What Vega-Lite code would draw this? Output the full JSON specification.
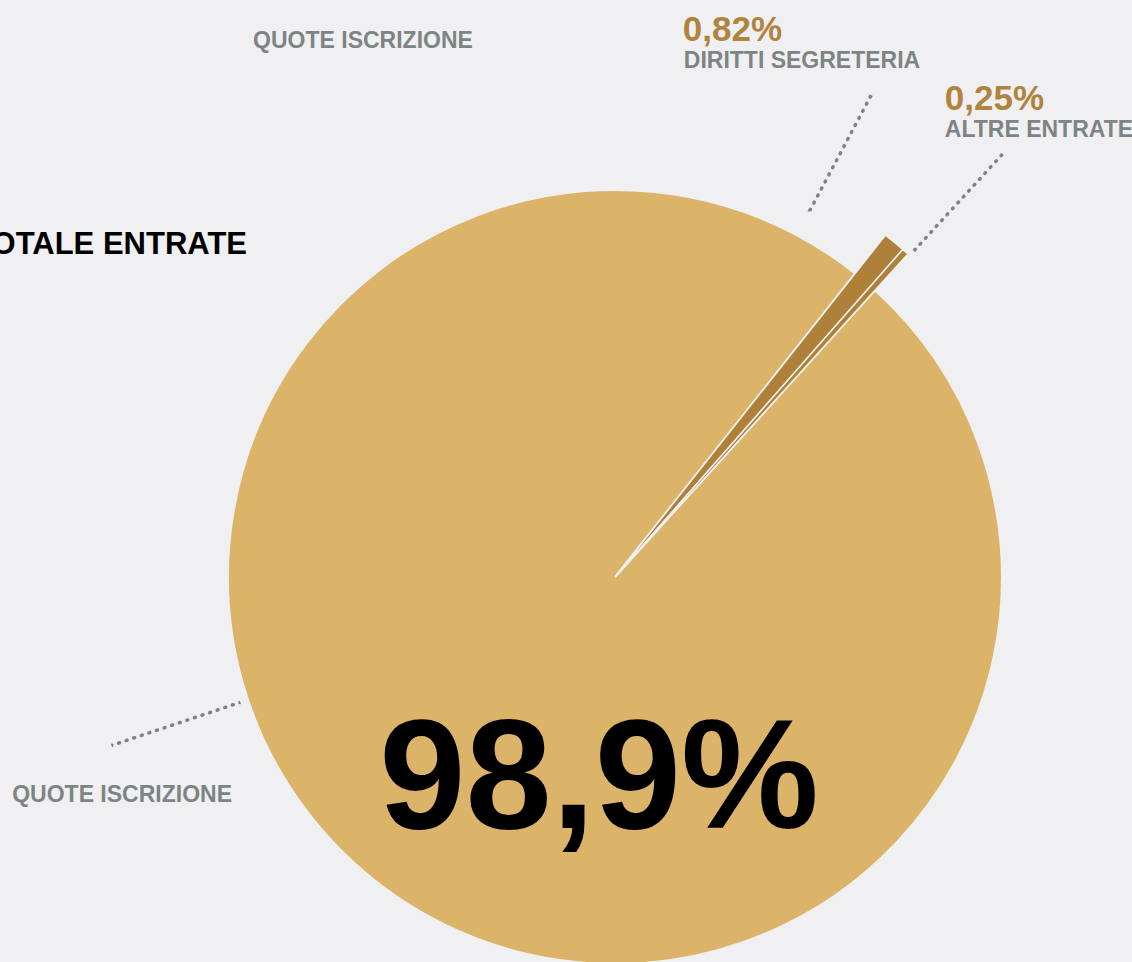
{
  "$schema": "https://vega.github.io/schema/vega-lite/v6.json",
  "autosize": {"type": "none"},
  "width": 1034,
  "height": 770,
  "padding": {"left": 98, "top": 192, "right": 0, "bottom": 0},
  "background": "#f0f0f2",
  "title": {
    "text": "TOTALE ENTRATE",
    "orient": "top",
    "anchor": "start",
    "frame": "group",
    "align": "right",
    "baseline": "alphabetic",
    "offset": 0,
    "dx": 149,
    "dy": 272,
    "font": "Liberation Sans",
    "fontSize": 31,
    "fontWeight": "bold",
    "color": "#000000"
  },
  "data": {
    "values": [
      {"voce": "QUOTE ISCRIZIONE", "quota": 98.9, "etichetta": "98,9%"},
      {"voce": "DIRITTI SEGRETERIA", "quota": 0.82, "etichetta": "0,82%"},
      {"voce": "ALTRE ENTRATE", "quota": 0.25, "etichetta": "0,25%"}
    ]
  },
  "transform": [
    {"stack": "quota", "groupby": [], "sort": [{"field": "quota", "order": "descending"}], "as": ["inizio", "fine"]}
  ],
  "encoding": {
    "theta": {"field": "inizio", "type": "quantitative", "stack": null, "scale": {"domain": [0, 99.97], "range": [0.73653, 7.01972]}}
  },
  "layer": [
    {
      "transform": [{"filter": "datum.voce === 'QUOTE ISCRIZIONE'"}],
      "mark": {"type": "arc", "outerRadius": 387, "fill": "#dbb46a", "stroke": "#f0f0f2", "strokeWidth": 2},
      "encoding": {"theta2": {"field": "fine"}}
    },
    {
      "transform": [{"filter": "datum.voce !== 'QUOTE ISCRIZIONE'"}],
      "mark": {"type": "arc", "outerRadius": 436, "fill": "#ae803a", "stroke": "#f0f0f2", "strokeWidth": 1.5},
      "encoding": {"theta2": {"field": "fine"}}
    },
    {
      "transform": [{"filter": "datum.voce === 'ALTRE ENTRATE'"}],
      "mark": {"type": "arc", "innerRadius": 444, "outerRadius": 572, "thetaOffset": 0.02094, "theta2Offset": 0.00523, "filled": false, "fill": "transparent", "stroke": "#7d8584", "strokeWidth": 3.5, "strokeDash": [0.5, 7.5], "strokeCap": "round"},
      "encoding": {"theta2": {"field": "fine"}}
    },
    {
      "transform": [{"filter": "datum.voce === 'DIRITTI SEGRETERIA'"}],
      "mark": {"type": "arc", "innerRadius": 416, "outerRadius": 544, "thetaOffset": -0.18059, "theta2Offset": -0.23213, "filled": false, "fill": "transparent", "stroke": "#7d8584", "strokeWidth": 3.5, "strokeDash": [0.5, 7.5], "strokeCap": "round"},
      "encoding": {"theta2": {"field": "fine"}}
    },
    {
      "transform": [{"filter": "datum.voce === 'QUOTE ISCRIZIONE'"}],
      "mark": {"type": "arc", "innerRadius": 395, "outerRadius": 531, "thetaOffset": 3.65301, "theta2Offset": -2.56293, "filled": false, "fill": "transparent", "stroke": "#7d8584", "strokeWidth": 3.5, "strokeDash": [0.5, 7.5], "strokeCap": "round"},
      "encoding": {"theta2": {"field": "fine"}}
    },
    {
      "transform": [{"filter": "datum.voce === 'DIRITTI SEGRETERIA'"}],
      "mark": {"type": "text", "radius": 480, "align": "left", "baseline": "alphabetic", "dx": -230, "dy": -160, "font": "Liberation Sans", "fontSize": 35, "fontWeight": "bold", "color": "#b0843e"},
      "encoding": {"text": {"field": "etichetta"}}
    },
    {
      "transform": [{"filter": "datum.voce === 'DIRITTI SEGRETERIA'"}],
      "mark": {"type": "text", "radius": 480, "align": "left", "baseline": "alphabetic", "dx": -229, "dy": -133, "font": "Liberation Sans", "fontSize": 23, "fontWeight": "bold", "color": "#7d8584"},
      "encoding": {"text": {"field": "voce"}}
    },
    {
      "transform": [{"filter": "datum.voce === 'ALTRE ENTRATE'"}],
      "mark": {"type": "text", "radius": 480, "align": "left", "baseline": "alphabetic", "dx": 13, "dy": -106, "font": "Liberation Sans", "fontSize": 35, "fontWeight": "bold", "color": "#b0843e"},
      "encoding": {"text": {"field": "etichetta"}}
    },
    {
      "transform": [{"filter": "datum.voce === 'ALTRE ENTRATE'"}],
      "mark": {"type": "text", "radius": 480, "align": "left", "baseline": "alphabetic", "dx": 13, "dy": -79, "font": "Liberation Sans", "fontSize": 23, "fontWeight": "bold", "color": "#7d8584"},
      "encoding": {"text": {"field": "voce"}}
    },
    {
      "transform": [{"filter": "datum.voce === 'QUOTE ISCRIZIONE'"}],
      "mark": {"type": "text", "radius": 0, "align": "center", "baseline": "alphabetic", "dx": -16, "dy": 251, "font": "Liberation Sans", "fontSize": 155, "fontWeight": "bold", "color": "#000000"},
      "encoding": {"text": {"field": "etichetta"}}
    },
    {
      "transform": [{"filter": "datum.voce === 'QUOTE ISCRIZIONE'"}],
      "mark": {"type": "text", "radius": 0, "align": "right", "baseline": "alphabetic", "dx": -383, "dy": 225, "font": "Liberation Sans", "fontSize": 23, "fontWeight": "bold", "color": "#7d8584"},
      "encoding": {"text": {"field": "voce"}}
    },
    {
      "transform": [{"filter": "datum.voce === 'QUOTE ISCRIZIONE'"}],
      "mark": {"type": "text", "radius": 0, "align": "center", "baseline": "alphabetic", "dx": -252, "dy": -529, "font": "Liberation Sans", "fontSize": 23, "fontWeight": "bold", "color": "#7d8584"},
      "encoding": {"text": {"field": "voce"}}
    }
  ],
  "config": {"view": {"stroke": null}}
}
